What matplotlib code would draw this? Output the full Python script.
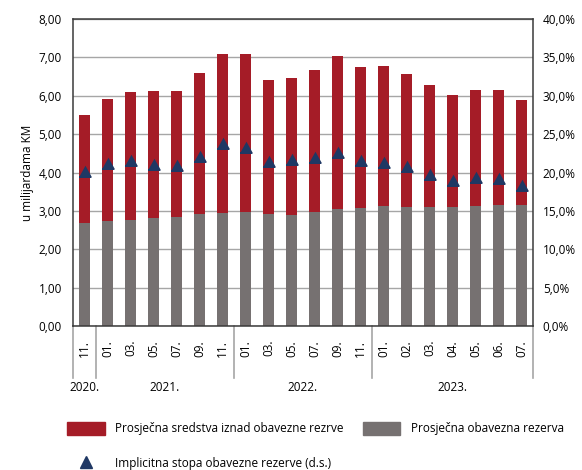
import numpy as np
from matplotlib import pyplot as plt
from matplotlib.lines import Line2D
from matplotlib.patches import Patch
from matplotlib.path import Path
from matplotlib.ticker import FuncFormatter, MultipleLocator

# podaci (očitano s grafikona)
months = ['11.', '01.', '03.', '05.', '07.', '09.', '11.',
          '01.', '03.', '05.', '07.', '09.', '11.',
          '01.', '02.', '03.', '04.', '05.', '06.', '07.']
years = ['2020.', '2021.', '2022.', '2023.']
year_sizes = [1, 6, 6, 7]

reserve = [2.69, 2.73, 2.77, 2.82, 2.85, 2.92, 2.94,
           2.98, 2.93, 2.90, 2.98, 3.04, 3.07,
           3.12, 3.10, 3.10, 3.10, 3.12, 3.15, 3.15]
total = [5.50, 5.92, 6.09, 6.12, 6.12, 6.58, 7.08,
         7.10, 6.40, 6.45, 6.67, 7.03, 6.74,
         6.78, 6.57, 6.27, 6.01, 6.15, 6.16, 5.89]
rate = [19.4, 20.5, 20.9, 20.3, 20.2, 21.4, 23.0,
        22.6, 20.7, 21.0, 21.2, 21.9, 20.8,
        20.6, 20.1, 19.0, 18.3, 18.6, 18.5, 17.6]

RED = '#A51C27'
GRAY = '#767171'
NAVY = '#1F3864'
GRID = '#A6A6A6'

plt.rcParams['font.family'] = ['Open Sans', 'DejaVu Sans']
plt.rcParams['font.size'] = 8

reserve = np.array(reserve)
excess = np.array(total) - reserve
x = np.arange(len(months))

fig = plt.figure(figsize=(5.82, 4.70), dpi=100)
ax = fig.add_axes([73 / 582, 1 - 326 / 470, 460 / 582, 307 / 470])

ax.bar(x, reserve, width=0.52, color=GRAY, zorder=2)
ax.bar(x, excess, bottom=reserve, width=0.52, color=RED, zorder=2)

ax.set_xlim(-0.5, len(months) - 0.5)
ax.set_ylim(0, 8)
ax.yaxis.set_major_locator(MultipleLocator(1))
ax.yaxis.set_major_formatter(FuncFormatter(lambda v, p: f'{v:.2f}'.replace('.', ',')))
ax.grid(axis='y', color=GRID, linewidth=1.0, zorder=0)
ax.set_axisbelow(True)
ax.set_ylabel('u milijardama KM', fontsize=8.5, labelpad=3)

ax.set_xticks(x)
ax.set_xticklabels(months, rotation=90, fontsize=8.5)
ax.tick_params(axis='x', length=0, pad=10)
ax.tick_params(axis='y', length=0, pad=8, labelsize=8.5)
for s in ax.spines.values():
    s.set_color('#3a3a3a')
    s.set_linewidth(1.1)

# desna osa - implicitna stopa
ax2 = ax.twinx()
ax2.set_ylim(0, 40)
ax2.yaxis.set_major_locator(MultipleLocator(5))
ax2.yaxis.set_major_formatter(FuncFormatter(lambda v, p: f'{v:.1f}%'.replace('.', ',')))
ax2.tick_params(axis='y', length=0, pad=7, labelsize=8.5)
for s in ax2.spines.values():
    s.set_visible(False)

# trokut kojem je baza na vrijednosti
tri = Path([(-0.5, 0.0), (0.5, 0.0), (0.0, 0.9), (-0.5, 0.0)],
           [Path.MOVETO, Path.LINETO, Path.LINETO, Path.CLOSEPOLY])
ax2.plot(x, rate, linestyle='none', marker=tri, markersize=17,
         color=NAVY, markeredgewidth=0, zorder=4)
ax2.plot(x, rate, linestyle='none', marker='_', markersize=8.8,
         markeredgewidth=1.4, color=NAVY, zorder=4)

# razdjelnici godina
trans = ax.get_xaxis_transform()
edges = np.concatenate([[0], np.cumsum(year_sizes)]) - 0.5
for e in edges:
    ax.plot([e, e], [0, -0.17], transform=trans, color=GRID,
            linewidth=1.2, clip_on=False)
for i, yr in enumerate(years):
    mid = (edges[i] + edges[i + 1]) / 2
    ax.text(mid, -0.2, yr, transform=trans, ha='center', va='center', fontsize=8.5)

handles = [
    Patch(color=RED, label='Prosječna sredstva iznad obavezne rezrve'),
    Line2D([], [], linestyle='none', marker='^', markersize=8, color=NAVY,
           label='Implicitna stopa obavezne rezerve (d.s.)'),
    Patch(color=GRAY, label='Prosječna obavezna rezerva'),
]
fig.legend(handles=handles, ncol=2, loc='upper left',
           bbox_to_anchor=(62 / 582, 1 - 417 / 470), frameon=False,
           fontsize=8.5, handlelength=3.2, handleheight=1.4,
           handletextpad=0.9, columnspacing=1.6, labelspacing=1.8,
           borderaxespad=0)

fig.savefig('out.png', dpi=100)
